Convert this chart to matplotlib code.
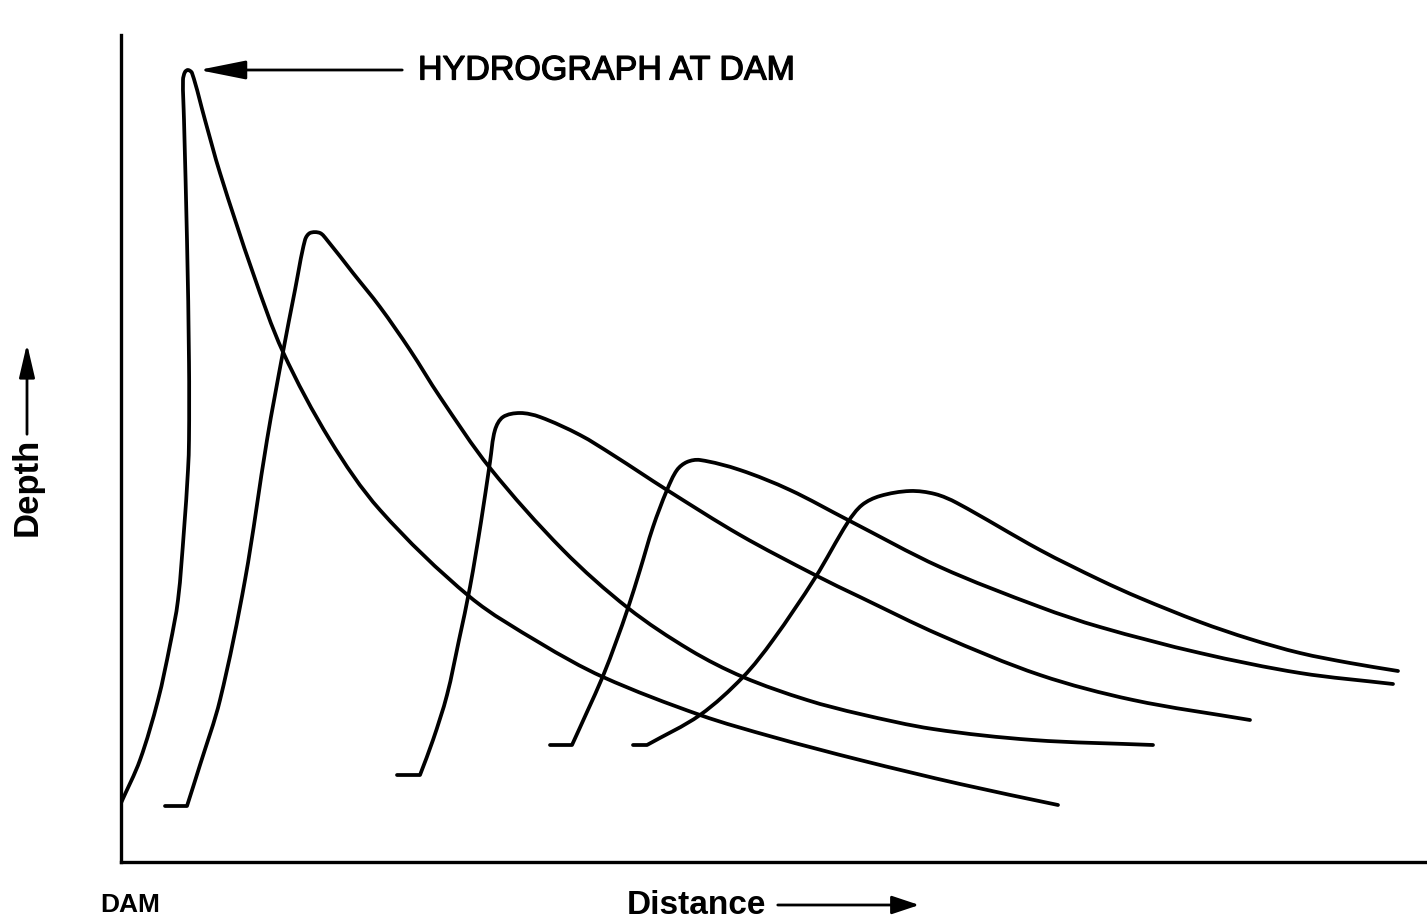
import matplotlib
matplotlib.use('Agg')
import matplotlib.pyplot as plt
import matplotlib.patheffects as pe
from matplotlib.path import Path
from matplotlib.patches import PathPatch
import numpy as np

plt.rcParams['font.family'] = ['Liberation Sans', 'DejaVu Sans']

# hydrograph outlines (distance, depth)
x_dam = [0, 19, 37, 49, 57, 63, 67, 68, 68, 66, 63, 62, 64, 67, 71, 84, 99, 132, 162, 209, 259,
         349, 419, 482, 579, 652, 739, 839, 937]
y_dam = [59, 102, 162, 217, 262, 332, 392, 422, 500, 622, 742, 782, 790, 792, 789, 742, 689, 589,
         510, 422, 352, 265, 219, 185, 147, 125, 102, 78, 57]

x_h2 = [44, 66, 79, 99, 124, 146, 162, 174, 184, 189, 199, 206, 232, 259, 289, 319, 369, 442,
        507, 569, 622, 686, 739, 812, 912, 1032]
y_h2 = [56, 56, 97, 162, 282, 422, 510, 572, 622, 629, 629, 622, 589, 555, 512, 465, 394, 312,
        254, 212, 185, 162, 148, 133, 122, 117]

x_h3 = [276, 299, 312, 326, 338, 349, 360, 369, 374, 382, 399, 419, 459, 492, 546, 619, 694,
        739, 819, 919, 1012, 1129]
y_h3 = [87, 87, 122, 167, 222, 275, 340, 400, 432, 445, 449, 445, 427, 407, 372, 327, 287,
        265, 227, 187, 162, 142]

x_h4 = [429, 451, 466, 482, 495, 507, 519, 532, 546, 556, 566, 579, 619, 669, 727, 819, 919,
        979, 1079, 1179, 1272]
y_h4 = [117, 117, 150, 186, 220, 254, 292, 335, 372, 392, 400, 402, 392, 372, 342, 295, 255,
        235, 209, 189, 178]

x_h5 = [512, 526, 579, 622, 652, 694, 727, 741, 759, 789, 814, 836, 919, 979, 1019, 1079, 1129,
        1179, 1229, 1277]
y_h5 = [117, 117, 147, 185, 222, 284, 340, 357, 366, 371, 368, 359, 312, 282, 264, 240, 223,
        209, 199, 191]


def smooth_path(xs, ys, flat_start):
    # straight toe segment, then a smooth Bezier run through the read points
    p = np.column_stack([xs, ys]).astype(float)
    verts = [p[0]]
    codes = [Path.MOVETO]
    start = 0
    if flat_start:
        verts.append(p[1])
        codes.append(Path.LINETO)
        start = 1
    q = p[start:]
    n = len(q)
    d = np.hypot(*np.diff(q, axis=0).T)
    tang = np.zeros_like(q)
    for i in range(n):
        if i == 0:
            tang[i] = (q[1] - q[0]) / d[0]
        elif i == n - 1:
            tang[i] = (q[-1] - q[-2]) / d[-1]
        else:
            tang[i] = (q[i + 1] - q[i - 1]) / (d[i - 1] + d[i])
    for i in range(n - 1):
        c1 = q[i] + tang[i] * d[i] / 3
        c2 = q[i + 1] - tang[i + 1] * d[i] / 3
        verts += [c1, c2, q[i + 1]]
        codes += [Path.CURVE4] * 3
    return Path(verts, codes)


fig = plt.figure(figsize=(14.27, 9.23), dpi=100)
ax = fig.add_axes([121 / 1427, 61 / 923, 1306 / 1427, 827 / 923])

curves = [(x_dam, y_dam, False), (x_h2, y_h2, True), (x_h3, y_h3, True),
          (x_h4, y_h4, True), (x_h5, y_h5, True)]
for xs, ys, flat in curves:
    ax.add_patch(PathPatch(smooth_path(xs, ys, flat), fill=False, edgecolor='black',
                           lw=2.7, joinstyle='round', capstyle='round'))

ax.set_xlim(0, 1306)
ax.set_ylim(0, 827)
ax.set_xticks([])
ax.set_yticks([])
for s in ['top', 'right']:
    ax.spines[s].set_visible(False)
for s in ['left', 'bottom']:
    ax.spines[s].set_linewidth(2.4)

heavy = [pe.withStroke(linewidth=0.9, foreground='black')]

# labels and arrows
ax.annotate('', xy=(75, 792), xytext=(284, 792),
            arrowprops=dict(arrowstyle='-|>,head_length=0.6,head_width=0.12',
                            mutation_scale=48, lw=2, color='black'),
            annotation_clip=False)
ax.text(297, 791, 'HYDROGRAPH AT DAM', fontsize=24.5, ha='left', va='center',
        path_effects=heavy)

ax.text(-94, 375, 'Depth', fontsize=25, fontweight='bold', rotation=90,
        ha='center', va='center', clip_on=False)
ax.annotate('', xy=(-94, 521), xytext=(-94, 425),
            arrowprops=dict(arrowstyle='-|>,head_length=0.6,head_width=0.14',
                            mutation_scale=34, lw=2, color='black'),
            annotation_clip=False)

ax.text(9, -43, 'DAM', fontsize=19, fontweight='bold', ha='center', va='center', clip_on=False)
ax.text(575, -43, 'Distance', fontsize=24, fontweight='bold', ha='center', va='center',
        clip_on=False)
ax.annotate('', xy=(801, -43), xytext=(654, -43),
            arrowprops=dict(arrowstyle='-|>,head_length=0.6,head_width=0.2',
                            mutation_scale=28, lw=2, color='black'),
            annotation_clip=False)

fig.savefig('out.png', dpi=100)
